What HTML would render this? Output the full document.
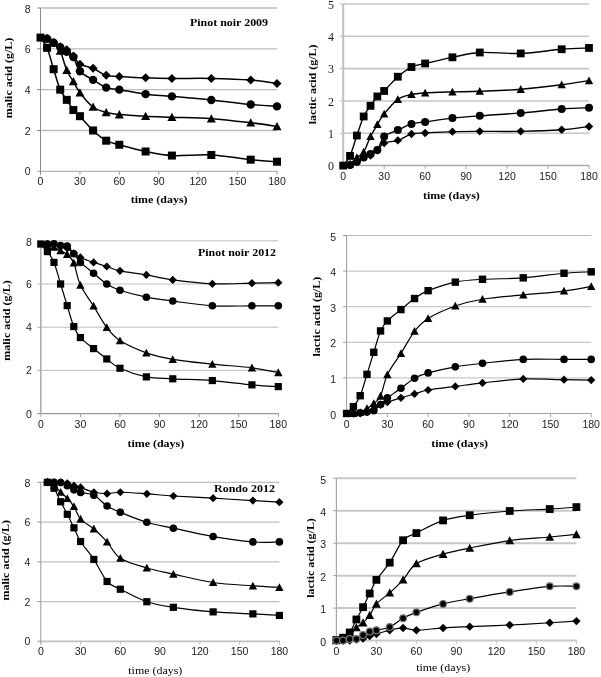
<!DOCTYPE html>
<html><head><meta charset="utf-8"><style>
html,body{margin:0;padding:0;background:#fff;}
body{width:601px;height:677px;overflow:hidden;font-family:"Liberation Sans", sans-serif;}
svg{display:block;will-change:transform;filter:blur(0.4px);}
</style></head><body>
<svg width="601" height="677" viewBox="0 0 601 677">
<rect width="601" height="677" fill="#fff"/>
<line x1="40.5" y1="130.48" x2="277.0" y2="130.48" stroke="#bdbdbd" stroke-width="1.3"/>
<line x1="37.0" y1="130.48" x2="40.5" y2="130.48" stroke="#8a8a8a" stroke-width="1"/>
<line x1="40.5" y1="89.65" x2="277.0" y2="89.65" stroke="#bdbdbd" stroke-width="1.3"/>
<line x1="37.0" y1="89.65" x2="40.5" y2="89.65" stroke="#8a8a8a" stroke-width="1"/>
<line x1="40.5" y1="48.83" x2="277.0" y2="48.83" stroke="#bdbdbd" stroke-width="1.3"/>
<line x1="37.0" y1="48.83" x2="40.5" y2="48.83" stroke="#8a8a8a" stroke-width="1"/>
<line x1="40.5" y1="8.00" x2="277.0" y2="8.00" stroke="#bdbdbd" stroke-width="1.3"/>
<line x1="37.0" y1="8.00" x2="40.5" y2="8.00" stroke="#8a8a8a" stroke-width="1"/>
<line x1="37.0" y1="171.30" x2="277.5" y2="171.30" stroke="#a0a0a0" stroke-width="1.0"/>
<line x1="40.50" y1="171.30" x2="40.50" y2="174.80" stroke="#8a8a8a" stroke-width="1"/>
<line x1="79.92" y1="171.30" x2="79.92" y2="174.80" stroke="#a0a0a0" stroke-width="1"/>
<line x1="119.33" y1="171.30" x2="119.33" y2="174.80" stroke="#a0a0a0" stroke-width="1"/>
<line x1="158.75" y1="171.30" x2="158.75" y2="174.80" stroke="#a0a0a0" stroke-width="1"/>
<line x1="198.17" y1="171.30" x2="198.17" y2="174.80" stroke="#a0a0a0" stroke-width="1"/>
<line x1="237.58" y1="171.30" x2="237.58" y2="174.80" stroke="#a0a0a0" stroke-width="1"/>
<line x1="277.00" y1="171.30" x2="277.00" y2="174.80" stroke="#a0a0a0" stroke-width="1"/>
<line x1="40.50" y1="8.00" x2="40.50" y2="171.80" stroke="#8a8a8a" stroke-width="1.0"/>
<text x="30.6" y="171.7" dy="0.35em" text-anchor="end" font-family="&quot;Liberation Sans&quot;, sans-serif" font-size="10.5" fill="#1a1a1a">0</text>
<text x="30.6" y="130.9" dy="0.35em" text-anchor="end" font-family="&quot;Liberation Sans&quot;, sans-serif" font-size="10.5" fill="#1a1a1a">2</text>
<text x="30.6" y="90.1" dy="0.35em" text-anchor="end" font-family="&quot;Liberation Sans&quot;, sans-serif" font-size="10.5" fill="#1a1a1a">4</text>
<text x="30.6" y="49.2" dy="0.35em" text-anchor="end" font-family="&quot;Liberation Sans&quot;, sans-serif" font-size="10.5" fill="#1a1a1a">6</text>
<text x="30.6" y="9.2" dy="0.35em" text-anchor="end" font-family="&quot;Liberation Sans&quot;, sans-serif" font-size="10.5" fill="#1a1a1a">8</text>
<text x="40.5" y="181.0" dy="0.35em" text-anchor="middle" font-family="&quot;Liberation Sans&quot;, sans-serif" font-size="10.5" fill="#1a1a1a">0</text>
<text x="79.9" y="181.0" dy="0.35em" text-anchor="middle" font-family="&quot;Liberation Sans&quot;, sans-serif" font-size="10.5" fill="#1a1a1a">30</text>
<text x="119.3" y="181.0" dy="0.35em" text-anchor="middle" font-family="&quot;Liberation Sans&quot;, sans-serif" font-size="10.5" fill="#1a1a1a">60</text>
<text x="158.8" y="181.0" dy="0.35em" text-anchor="middle" font-family="&quot;Liberation Sans&quot;, sans-serif" font-size="10.5" fill="#1a1a1a">90</text>
<text x="198.2" y="181.0" dy="0.35em" text-anchor="middle" font-family="&quot;Liberation Sans&quot;, sans-serif" font-size="10.5" fill="#1a1a1a">120</text>
<text x="237.6" y="181.0" dy="0.35em" text-anchor="middle" font-family="&quot;Liberation Sans&quot;, sans-serif" font-size="10.5" fill="#1a1a1a">150</text>
<text x="277.0" y="181.0" dy="0.35em" text-anchor="middle" font-family="&quot;Liberation Sans&quot;, sans-serif" font-size="10.5" fill="#1a1a1a">180</text>
<text x="0" y="0" transform="translate(159.20,202.60) scale(1.05,1)" text-anchor="middle" font-family="&quot;Liberation Serif&quot;, serif" font-size="11.4" font-weight="bold" fill="#000">time (days)</text>
<text x="0" y="0" dy="0.35em" transform="translate(7.90,78.00) rotate(-90) scale(1.05,1)" text-anchor="middle" font-family="&quot;Liberation Serif&quot;, serif" font-size="11.4" font-weight="bold" fill="#000">malic acid (g/L)</text>
<text x="0" y="0" transform="translate(229.00,26.20) scale(1.05,1)" text-anchor="middle" font-family="&quot;Liberation Serif&quot;, serif" font-size="11.4" font-weight="bold" fill="#000">Pinot noir 2009</text>
<path d="M40.50,37.60 C41.59,37.77 44.88,37.77 47.07,38.62 C49.26,39.47 51.45,41.34 53.64,42.70 C55.83,44.06 58.02,45.59 60.21,46.78 C62.40,47.97 64.59,48.31 66.78,49.85 C68.97,51.38 71.16,53.59 73.35,55.97 C75.54,58.35 76.63,62.09 79.92,64.13 C83.20,66.18 88.68,66.35 93.06,68.22 C97.44,70.09 101.81,74.00 106.19,75.36 C110.57,76.72 112.76,75.97 119.33,76.38 C125.90,76.79 136.85,77.47 145.61,77.81 C154.37,78.15 160.94,78.32 171.89,78.42 C182.84,78.53 198.17,78.15 211.31,78.42 C224.44,78.70 239.77,79.21 250.72,80.06 C261.67,80.91 272.62,82.95 277.00,83.53" fill="none" stroke="#000" stroke-width="1.5" stroke-linejoin="round"/>
<path d="M40.50,37.60 C41.59,37.77 44.88,37.77 47.07,38.62 C49.26,39.47 51.45,41.27 53.64,42.70 C55.83,44.13 58.02,45.66 60.21,47.19 C62.40,48.72 64.59,50.25 66.78,51.89 C68.97,53.52 71.16,53.76 73.35,56.99 C75.54,60.22 76.63,67.47 79.92,71.28 C83.20,75.09 88.68,77.13 93.06,79.85 C97.44,82.57 101.81,85.98 106.19,87.61 C110.57,89.24 112.76,88.56 119.33,89.65 C125.90,90.74 136.85,93.02 145.61,94.14 C154.37,95.26 160.94,95.40 171.89,96.39 C182.84,97.37 198.17,98.70 211.31,100.06 C224.44,101.42 239.77,103.50 250.72,104.55 C261.67,105.61 272.62,106.08 277.00,106.39" fill="none" stroke="#000" stroke-width="1.5" stroke-linejoin="round"/>
<path d="M40.50,37.60 C41.59,37.77 44.88,37.77 47.07,38.62 C49.26,39.47 51.45,40.66 53.64,42.70 C55.83,44.74 58.02,46.27 60.21,50.87 C62.40,55.46 64.59,65.16 66.78,70.26 C68.97,75.36 71.16,77.74 73.35,81.48 C75.54,85.23 76.63,88.46 79.92,92.71 C83.20,96.96 88.68,103.70 93.06,107.00 C97.44,110.30 101.81,111.25 106.19,112.51 C110.57,113.77 112.76,113.94 119.33,114.55 C125.90,115.17 136.85,115.74 145.61,116.19 C154.37,116.63 160.94,116.80 171.89,117.21 C182.84,117.62 198.17,117.72 211.31,118.64 C224.44,119.55 239.77,121.43 250.72,122.72 C261.67,124.01 272.62,125.78 277.00,126.39" fill="none" stroke="#000" stroke-width="1.5" stroke-linejoin="round"/>
<path d="M40.50,37.60 C41.59,39.30 44.88,42.53 47.07,47.80 C49.26,53.08 51.45,62.26 53.64,69.24 C55.83,76.21 58.02,84.55 60.21,89.65 C62.40,94.75 64.59,96.45 66.78,99.86 C68.97,103.26 71.16,107.34 73.35,110.06 C75.54,112.78 76.63,112.78 79.92,116.19 C83.20,119.59 88.68,126.39 93.06,130.48 C97.44,134.56 101.81,138.30 106.19,140.68 C110.57,143.06 112.76,142.96 119.33,144.76 C125.90,146.57 136.85,149.70 145.61,151.50 C154.37,153.30 160.94,155.00 171.89,155.58 C182.84,156.16 198.17,154.29 211.31,154.97 C224.44,155.65 239.77,158.54 250.72,159.66 C261.67,160.79 272.62,161.37 277.00,161.71" fill="none" stroke="#000" stroke-width="1.5" stroke-linejoin="round"/>
<polygon points="47.07,34.12 51.57,38.62 47.07,43.12 42.57,38.62" fill="#000"/>
<polygon points="53.64,38.20 58.14,42.70 53.64,47.20 49.14,42.70" fill="#000"/>
<polygon points="60.21,42.28 64.71,46.78 60.21,51.28 55.71,46.78" fill="#000"/>
<polygon points="66.78,45.35 71.28,49.85 66.78,54.35 62.28,49.85" fill="#000"/>
<polygon points="73.35,51.47 77.85,55.97 73.35,60.47 68.85,55.97" fill="#000"/>
<polygon points="79.92,59.63 84.42,64.13 79.92,68.63 75.42,64.13" fill="#000"/>
<polygon points="93.06,63.72 97.56,68.22 93.06,72.72 88.56,68.22" fill="#000"/>
<polygon points="106.19,70.86 110.69,75.36 106.19,79.86 101.69,75.36" fill="#000"/>
<polygon points="119.33,71.88 123.83,76.38 119.33,80.88 114.83,76.38" fill="#000"/>
<polygon points="145.61,73.31 150.11,77.81 145.61,82.31 141.11,77.81" fill="#000"/>
<polygon points="171.89,73.92 176.39,78.42 171.89,82.92 167.39,78.42" fill="#000"/>
<polygon points="211.31,73.92 215.81,78.42 211.31,82.92 206.81,78.42" fill="#000"/>
<polygon points="250.72,75.56 255.22,80.06 250.72,84.56 246.22,80.06" fill="#000"/>
<polygon points="277.00,79.03 281.50,83.53 277.00,88.03 272.50,83.53" fill="#000"/>
<circle cx="47.07" cy="38.62" r="4.20" fill="#000"/>
<circle cx="53.64" cy="42.70" r="4.20" fill="#000"/>
<circle cx="60.21" cy="47.19" r="4.20" fill="#000"/>
<circle cx="66.78" cy="51.89" r="4.20" fill="#000"/>
<circle cx="73.35" cy="56.99" r="4.20" fill="#000"/>
<circle cx="79.92" cy="71.28" r="4.20" fill="#000"/>
<circle cx="93.06" cy="79.85" r="4.20" fill="#000"/>
<circle cx="106.19" cy="87.61" r="4.20" fill="#000"/>
<circle cx="119.33" cy="89.65" r="4.20" fill="#000"/>
<circle cx="145.61" cy="94.14" r="4.20" fill="#000"/>
<circle cx="171.89" cy="96.39" r="4.20" fill="#000"/>
<circle cx="211.31" cy="100.06" r="4.20" fill="#000"/>
<circle cx="250.72" cy="104.55" r="4.20" fill="#000"/>
<circle cx="277.00" cy="106.39" r="4.20" fill="#000"/>
<polygon points="47.07,34.12 51.57,42.44 42.57,42.44" fill="#000"/>
<polygon points="53.64,38.20 58.14,46.53 49.14,46.53" fill="#000"/>
<polygon points="60.21,46.37 64.71,54.69 55.71,54.69" fill="#000"/>
<polygon points="66.78,65.76 71.28,74.08 62.28,74.08" fill="#000"/>
<polygon points="73.35,76.98 77.85,85.31 68.85,85.31" fill="#000"/>
<polygon points="79.92,88.21 84.42,96.54 75.42,96.54" fill="#000"/>
<polygon points="93.06,102.50 97.56,110.83 88.56,110.83" fill="#000"/>
<polygon points="106.19,108.01 110.69,116.34 101.69,116.34" fill="#000"/>
<polygon points="119.33,110.05 123.83,118.38 114.83,118.38" fill="#000"/>
<polygon points="145.61,111.69 150.11,120.01 141.11,120.01" fill="#000"/>
<polygon points="171.89,112.71 176.39,121.03 167.39,121.03" fill="#000"/>
<polygon points="211.31,114.14 215.81,122.46 206.81,122.46" fill="#000"/>
<polygon points="250.72,118.22 255.22,126.54 246.22,126.54" fill="#000"/>
<polygon points="277.00,121.89 281.50,130.22 272.50,130.22" fill="#000"/>
<rect x="36.50" y="33.60" width="8.00" height="8.00" fill="#000"/>
<rect x="43.07" y="43.80" width="8.00" height="8.00" fill="#000"/>
<rect x="49.64" y="65.24" width="8.00" height="8.00" fill="#000"/>
<rect x="56.21" y="85.65" width="8.00" height="8.00" fill="#000"/>
<rect x="62.78" y="95.86" width="8.00" height="8.00" fill="#000"/>
<rect x="69.35" y="106.06" width="8.00" height="8.00" fill="#000"/>
<rect x="75.92" y="112.19" width="8.00" height="8.00" fill="#000"/>
<rect x="89.06" y="126.48" width="8.00" height="8.00" fill="#000"/>
<rect x="102.19" y="136.68" width="8.00" height="8.00" fill="#000"/>
<rect x="115.33" y="140.76" width="8.00" height="8.00" fill="#000"/>
<rect x="141.61" y="147.50" width="8.00" height="8.00" fill="#000"/>
<rect x="167.89" y="151.58" width="8.00" height="8.00" fill="#000"/>
<rect x="207.31" y="150.97" width="8.00" height="8.00" fill="#000"/>
<rect x="246.72" y="155.66" width="8.00" height="8.00" fill="#000"/>
<rect x="273.00" y="157.71" width="8.00" height="8.00" fill="#000"/>
<line x1="343.2" y1="133.28" x2="589.0" y2="133.28" stroke="#c6c6c6" stroke-width="1.6"/>
<line x1="339.7" y1="133.28" x2="343.2" y2="133.28" stroke="#bfbfbf" stroke-width="1"/>
<line x1="343.2" y1="100.96" x2="589.0" y2="100.96" stroke="#c6c6c6" stroke-width="1.6"/>
<line x1="339.7" y1="100.96" x2="343.2" y2="100.96" stroke="#bfbfbf" stroke-width="1"/>
<line x1="343.2" y1="68.64" x2="589.0" y2="68.64" stroke="#c6c6c6" stroke-width="1.6"/>
<line x1="339.7" y1="68.64" x2="343.2" y2="68.64" stroke="#bfbfbf" stroke-width="1"/>
<line x1="343.2" y1="36.32" x2="589.0" y2="36.32" stroke="#c6c6c6" stroke-width="1.6"/>
<line x1="339.7" y1="36.32" x2="343.2" y2="36.32" stroke="#bfbfbf" stroke-width="1"/>
<line x1="343.2" y1="4.00" x2="589.0" y2="4.00" stroke="#c6c6c6" stroke-width="1.6"/>
<line x1="339.7" y1="4.00" x2="343.2" y2="4.00" stroke="#bfbfbf" stroke-width="1"/>
<line x1="339.7" y1="165.60" x2="589.5" y2="165.60" stroke="#aaaaaa" stroke-width="1.5"/>
<line x1="343.20" y1="165.60" x2="343.20" y2="169.10" stroke="#bfbfbf" stroke-width="1"/>
<line x1="384.17" y1="165.60" x2="384.17" y2="169.10" stroke="#aaaaaa" stroke-width="1"/>
<line x1="425.13" y1="165.60" x2="425.13" y2="169.10" stroke="#aaaaaa" stroke-width="1"/>
<line x1="466.10" y1="165.60" x2="466.10" y2="169.10" stroke="#aaaaaa" stroke-width="1"/>
<line x1="507.07" y1="165.60" x2="507.07" y2="169.10" stroke="#aaaaaa" stroke-width="1"/>
<line x1="548.03" y1="165.60" x2="548.03" y2="169.10" stroke="#aaaaaa" stroke-width="1"/>
<line x1="589.00" y1="165.60" x2="589.00" y2="169.10" stroke="#aaaaaa" stroke-width="1"/>
<line x1="343.20" y1="4.00" x2="343.20" y2="166.10" stroke="#bfbfbf" stroke-width="2.0"/>
<text x="334.0" y="166.0" dy="0.35em" text-anchor="end" font-family="&quot;Liberation Serif&quot;, serif" font-size="12" fill="#1a1a1a">0</text>
<text x="334.0" y="133.7" dy="0.35em" text-anchor="end" font-family="&quot;Liberation Serif&quot;, serif" font-size="12" fill="#1a1a1a">1</text>
<text x="334.0" y="101.4" dy="0.35em" text-anchor="end" font-family="&quot;Liberation Serif&quot;, serif" font-size="12" fill="#1a1a1a">2</text>
<text x="334.0" y="69.0" dy="0.35em" text-anchor="end" font-family="&quot;Liberation Serif&quot;, serif" font-size="12" fill="#1a1a1a">3</text>
<text x="334.0" y="36.7" dy="0.35em" text-anchor="end" font-family="&quot;Liberation Serif&quot;, serif" font-size="12" fill="#1a1a1a">4</text>
<text x="334.0" y="5.2" dy="0.35em" text-anchor="end" font-family="&quot;Liberation Serif&quot;, serif" font-size="12" fill="#1a1a1a">5</text>
<text x="343.2" y="176.0" dy="0.35em" text-anchor="middle" font-family="&quot;Liberation Sans&quot;, sans-serif" font-size="10.5" fill="#1a1a1a">0</text>
<text x="384.2" y="176.0" dy="0.35em" text-anchor="middle" font-family="&quot;Liberation Sans&quot;, sans-serif" font-size="10.5" fill="#1a1a1a">30</text>
<text x="425.1" y="176.0" dy="0.35em" text-anchor="middle" font-family="&quot;Liberation Sans&quot;, sans-serif" font-size="10.5" fill="#1a1a1a">60</text>
<text x="466.1" y="176.0" dy="0.35em" text-anchor="middle" font-family="&quot;Liberation Sans&quot;, sans-serif" font-size="10.5" fill="#1a1a1a">90</text>
<text x="507.1" y="176.0" dy="0.35em" text-anchor="middle" font-family="&quot;Liberation Sans&quot;, sans-serif" font-size="10.5" fill="#1a1a1a">120</text>
<text x="548.0" y="176.0" dy="0.35em" text-anchor="middle" font-family="&quot;Liberation Sans&quot;, sans-serif" font-size="10.5" fill="#1a1a1a">150</text>
<text x="589.0" y="176.0" dy="0.35em" text-anchor="middle" font-family="&quot;Liberation Sans&quot;, sans-serif" font-size="10.5" fill="#1a1a1a">180</text>
<text x="0" y="0" transform="translate(451.40,198.60) scale(1.05,1)" text-anchor="middle" font-family="&quot;Liberation Serif&quot;, serif" font-size="11.4" font-weight="bold" fill="#000">time (days)</text>
<text x="0" y="0" dy="0.35em" transform="translate(311.90,84.40) rotate(-90) scale(1.05,1)" text-anchor="middle" font-family="&quot;Liberation Serif&quot;, serif" font-size="11.4" font-weight="bold" fill="#000">lactic acid (g/L)</text>
<path d="M343.20,165.60 C344.34,165.49 347.75,165.60 350.03,164.95 C352.30,164.31 354.58,163.07 356.86,161.72 C359.13,160.37 361.41,157.90 363.68,156.87 C365.96,155.85 368.24,156.66 370.51,155.58 C372.79,154.50 375.06,152.51 377.34,150.41 C379.61,148.31 380.75,144.65 384.17,142.98 C387.58,141.31 393.27,141.90 397.82,140.39 C402.37,138.88 406.93,135.17 411.48,133.93 C416.03,132.69 418.31,133.33 425.13,132.96 C431.96,132.58 443.34,131.93 452.44,131.66 C461.55,131.39 468.38,131.39 479.76,131.34 C491.14,131.29 507.07,131.61 520.72,131.34 C534.38,131.07 550.31,130.53 561.69,129.72 C573.07,128.92 584.45,127.03 589.00,126.49" fill="none" stroke="#000" stroke-width="1.4" stroke-linejoin="round"/>
<path d="M343.20,165.60 C344.34,165.49 347.75,165.60 350.03,164.95 C352.30,164.31 354.58,162.96 356.86,161.72 C359.13,160.48 361.41,158.81 363.68,157.52 C365.96,156.23 368.24,155.20 370.51,153.96 C372.79,152.73 375.06,153.00 377.34,150.09 C379.61,147.18 380.75,139.85 384.17,136.51 C387.58,133.17 393.27,132.15 397.82,130.05 C402.37,127.95 406.93,125.25 411.48,123.91 C416.03,122.56 418.31,122.94 425.13,121.97 C431.96,121.00 443.34,119.11 452.44,118.09 C461.55,117.07 468.38,116.69 479.76,115.83 C491.14,114.97 507.07,114.05 520.72,112.92 C534.38,111.79 550.31,109.90 561.69,109.04 C573.07,108.18 584.45,107.96 589.00,107.75" fill="none" stroke="#000" stroke-width="1.4" stroke-linejoin="round"/>
<path d="M343.20,165.60 C344.34,165.33 347.75,165.33 350.03,163.98 C352.30,162.64 354.58,159.51 356.86,157.52 C359.13,155.53 361.41,155.53 363.68,152.03 C365.96,148.52 368.24,141.09 370.51,136.51 C372.79,131.93 375.06,128.32 377.34,124.55 C379.61,120.78 380.75,118.09 384.17,113.89 C387.58,109.69 393.27,102.58 397.82,99.34 C402.37,96.11 406.93,95.57 411.48,94.50 C416.03,93.42 418.31,93.31 425.13,92.88 C431.96,92.45 443.34,92.18 452.44,91.91 C461.55,91.64 468.38,91.69 479.76,91.26 C491.14,90.83 507.07,90.40 520.72,89.32 C534.38,88.25 550.31,86.25 561.69,84.80 C573.07,83.35 584.45,81.30 589.00,80.60" fill="none" stroke="#000" stroke-width="1.4" stroke-linejoin="round"/>
<path d="M343.20,165.60 C344.34,163.98 347.75,160.91 350.03,155.90 C352.30,150.89 354.58,142.11 356.86,135.54 C359.13,128.97 361.41,121.43 363.68,116.47 C365.96,111.52 368.24,109.15 370.51,105.81 C372.79,102.47 375.06,98.91 377.34,96.44 C379.61,93.96 380.75,94.23 384.17,90.94 C387.58,87.65 393.27,80.71 397.82,76.72 C402.37,72.73 406.93,69.23 411.48,67.02 C416.03,64.82 418.31,65.08 425.13,63.47 C431.96,61.85 443.34,59.16 452.44,57.33 C461.55,55.50 468.38,53.13 479.76,52.48 C491.14,51.83 507.07,53.99 520.72,53.45 C534.38,52.91 550.31,50.16 561.69,49.25 C573.07,48.33 584.45,48.17 589.00,47.96" fill="none" stroke="#000" stroke-width="1.4" stroke-linejoin="round"/>
<polygon points="350.03,160.75 354.23,164.95 350.03,169.15 345.83,164.95" fill="#000"/>
<polygon points="356.86,157.52 361.06,161.72 356.86,165.92 352.66,161.72" fill="#000"/>
<polygon points="363.68,152.67 367.88,156.87 363.68,161.07 359.48,156.87" fill="#000"/>
<polygon points="370.51,151.38 374.71,155.58 370.51,159.78 366.31,155.58" fill="#000"/>
<polygon points="377.34,146.21 381.54,150.41 377.34,154.61 373.14,150.41" fill="#000"/>
<polygon points="384.17,138.78 388.37,142.98 384.17,147.18 379.97,142.98" fill="#000"/>
<polygon points="397.82,136.19 402.02,140.39 397.82,144.59 393.62,140.39" fill="#000"/>
<polygon points="411.48,129.73 415.68,133.93 411.48,138.13 407.28,133.93" fill="#000"/>
<polygon points="425.13,128.76 429.33,132.96 425.13,137.16 420.93,132.96" fill="#000"/>
<polygon points="452.44,127.46 456.64,131.66 452.44,135.86 448.24,131.66" fill="#000"/>
<polygon points="479.76,127.14 483.96,131.34 479.76,135.54 475.56,131.34" fill="#000"/>
<polygon points="520.72,127.14 524.92,131.34 520.72,135.54 516.52,131.34" fill="#000"/>
<polygon points="561.69,125.52 565.89,129.72 561.69,133.92 557.49,129.72" fill="#000"/>
<polygon points="589.00,122.29 593.20,126.49 589.00,130.69 584.80,126.49" fill="#000"/>
<circle cx="350.03" cy="164.95" r="4.00" fill="#000"/>
<circle cx="356.86" cy="161.72" r="4.00" fill="#000"/>
<circle cx="363.68" cy="157.52" r="4.00" fill="#000"/>
<circle cx="370.51" cy="153.96" r="4.00" fill="#000"/>
<circle cx="377.34" cy="150.09" r="4.00" fill="#000"/>
<circle cx="384.17" cy="136.51" r="4.00" fill="#000"/>
<circle cx="397.82" cy="130.05" r="4.00" fill="#000"/>
<circle cx="411.48" cy="123.91" r="4.00" fill="#000"/>
<circle cx="425.13" cy="121.97" r="4.00" fill="#000"/>
<circle cx="452.44" cy="118.09" r="4.00" fill="#000"/>
<circle cx="479.76" cy="115.83" r="4.00" fill="#000"/>
<circle cx="520.72" cy="112.92" r="4.00" fill="#000"/>
<circle cx="561.69" cy="109.04" r="4.00" fill="#000"/>
<circle cx="589.00" cy="107.75" r="4.00" fill="#000"/>
<polygon points="350.03,159.78 354.23,167.55 345.83,167.55" fill="#000"/>
<polygon points="356.86,153.32 361.06,161.09 352.66,161.09" fill="#000"/>
<polygon points="363.68,147.83 367.88,155.60 359.48,155.60" fill="#000"/>
<polygon points="370.51,132.31 374.71,140.08 366.31,140.08" fill="#000"/>
<polygon points="377.34,120.35 381.54,128.12 373.14,128.12" fill="#000"/>
<polygon points="384.17,109.69 388.37,117.46 379.97,117.46" fill="#000"/>
<polygon points="397.82,95.14 402.02,102.91 393.62,102.91" fill="#000"/>
<polygon points="411.48,90.30 415.68,98.07 407.28,98.07" fill="#000"/>
<polygon points="425.13,88.68 429.33,96.45 420.93,96.45" fill="#000"/>
<polygon points="452.44,87.71 456.64,95.48 448.24,95.48" fill="#000"/>
<polygon points="479.76,87.06 483.96,94.83 475.56,94.83" fill="#000"/>
<polygon points="520.72,85.12 524.92,92.89 516.52,92.89" fill="#000"/>
<polygon points="561.69,80.60 565.89,88.37 557.49,88.37" fill="#000"/>
<polygon points="589.00,76.40 593.20,84.17 584.80,84.17" fill="#000"/>
<rect x="339.30" y="161.70" width="7.80" height="7.80" fill="#000"/>
<rect x="346.13" y="152.00" width="7.80" height="7.80" fill="#000"/>
<rect x="352.96" y="131.64" width="7.80" height="7.80" fill="#000"/>
<rect x="359.78" y="112.57" width="7.80" height="7.80" fill="#000"/>
<rect x="366.61" y="101.91" width="7.80" height="7.80" fill="#000"/>
<rect x="373.44" y="92.54" width="7.80" height="7.80" fill="#000"/>
<rect x="380.27" y="87.04" width="7.80" height="7.80" fill="#000"/>
<rect x="393.92" y="72.82" width="7.80" height="7.80" fill="#000"/>
<rect x="407.58" y="63.12" width="7.80" height="7.80" fill="#000"/>
<rect x="421.23" y="59.57" width="7.80" height="7.80" fill="#000"/>
<rect x="448.54" y="53.43" width="7.80" height="7.80" fill="#000"/>
<rect x="475.86" y="48.58" width="7.80" height="7.80" fill="#000"/>
<rect x="516.82" y="49.55" width="7.80" height="7.80" fill="#000"/>
<rect x="557.79" y="45.35" width="7.80" height="7.80" fill="#000"/>
<rect x="585.10" y="44.06" width="7.80" height="7.80" fill="#000"/>
<line x1="40.8" y1="370.40" x2="278.3" y2="370.40" stroke="#bbbbbb" stroke-width="1.0"/>
<line x1="37.3" y1="370.40" x2="40.8" y2="370.40" stroke="#adadad" stroke-width="1"/>
<line x1="40.8" y1="327.20" x2="278.3" y2="327.20" stroke="#bbbbbb" stroke-width="1.0"/>
<line x1="37.3" y1="327.20" x2="40.8" y2="327.20" stroke="#adadad" stroke-width="1"/>
<line x1="40.8" y1="284.00" x2="278.3" y2="284.00" stroke="#bbbbbb" stroke-width="1.0"/>
<line x1="37.3" y1="284.00" x2="40.8" y2="284.00" stroke="#adadad" stroke-width="1"/>
<line x1="40.8" y1="240.80" x2="278.3" y2="240.80" stroke="#bbbbbb" stroke-width="1.0"/>
<line x1="37.3" y1="240.80" x2="40.8" y2="240.80" stroke="#adadad" stroke-width="1"/>
<line x1="37.3" y1="413.60" x2="278.8" y2="413.60" stroke="#999999" stroke-width="1.2"/>
<line x1="40.80" y1="413.60" x2="40.80" y2="417.10" stroke="#adadad" stroke-width="1"/>
<line x1="80.38" y1="413.60" x2="80.38" y2="417.10" stroke="#999999" stroke-width="1"/>
<line x1="119.97" y1="413.60" x2="119.97" y2="417.10" stroke="#999999" stroke-width="1"/>
<line x1="159.55" y1="413.60" x2="159.55" y2="417.10" stroke="#999999" stroke-width="1"/>
<line x1="199.13" y1="413.60" x2="199.13" y2="417.10" stroke="#999999" stroke-width="1"/>
<line x1="238.72" y1="413.60" x2="238.72" y2="417.10" stroke="#999999" stroke-width="1"/>
<line x1="278.30" y1="413.60" x2="278.30" y2="417.10" stroke="#999999" stroke-width="1"/>
<line x1="40.80" y1="240.80" x2="40.80" y2="414.10" stroke="#adadad" stroke-width="1.6"/>
<text x="31.8" y="414.0" dy="0.35em" text-anchor="end" font-family="&quot;Liberation Sans&quot;, sans-serif" font-size="10.5" fill="#1a1a1a">0</text>
<text x="31.8" y="370.8" dy="0.35em" text-anchor="end" font-family="&quot;Liberation Sans&quot;, sans-serif" font-size="10.5" fill="#1a1a1a">2</text>
<text x="31.8" y="327.6" dy="0.35em" text-anchor="end" font-family="&quot;Liberation Sans&quot;, sans-serif" font-size="10.5" fill="#1a1a1a">4</text>
<text x="31.8" y="284.4" dy="0.35em" text-anchor="end" font-family="&quot;Liberation Sans&quot;, sans-serif" font-size="10.5" fill="#1a1a1a">6</text>
<text x="31.8" y="242.0" dy="0.35em" text-anchor="end" font-family="&quot;Liberation Sans&quot;, sans-serif" font-size="10.5" fill="#1a1a1a">8</text>
<text x="40.8" y="424.0" dy="0.35em" text-anchor="middle" font-family="&quot;Liberation Sans&quot;, sans-serif" font-size="10.5" fill="#1a1a1a">0</text>
<text x="80.4" y="424.0" dy="0.35em" text-anchor="middle" font-family="&quot;Liberation Sans&quot;, sans-serif" font-size="10.5" fill="#1a1a1a">30</text>
<text x="120.0" y="424.0" dy="0.35em" text-anchor="middle" font-family="&quot;Liberation Sans&quot;, sans-serif" font-size="10.5" fill="#1a1a1a">60</text>
<text x="159.6" y="424.0" dy="0.35em" text-anchor="middle" font-family="&quot;Liberation Sans&quot;, sans-serif" font-size="10.5" fill="#1a1a1a">90</text>
<text x="199.1" y="424.0" dy="0.35em" text-anchor="middle" font-family="&quot;Liberation Sans&quot;, sans-serif" font-size="10.5" fill="#1a1a1a">120</text>
<text x="238.7" y="424.0" dy="0.35em" text-anchor="middle" font-family="&quot;Liberation Sans&quot;, sans-serif" font-size="10.5" fill="#1a1a1a">150</text>
<text x="278.3" y="424.0" dy="0.35em" text-anchor="middle" font-family="&quot;Liberation Sans&quot;, sans-serif" font-size="10.5" fill="#1a1a1a">180</text>
<text x="0" y="0" transform="translate(155.80,446.70) scale(1.05,1)" text-anchor="middle" font-family="&quot;Liberation Serif&quot;, serif" font-size="11.4" font-weight="bold" fill="#000">time (days)</text>
<text x="0" y="0" dy="0.35em" transform="translate(6.40,320.50) rotate(-90) scale(1.05,1)" text-anchor="middle" font-family="&quot;Liberation Serif&quot;, serif" font-size="11.4" font-weight="bold" fill="#000">malic acid (g/L)</text>
<text x="0" y="0" transform="translate(237.00,255.80) scale(1.05,1)" text-anchor="middle" font-family="&quot;Liberation Serif&quot;, serif" font-size="11.4" font-weight="bold" fill="#000">Pinot noir 2012</text>
<path d="M40.80,244.04 C41.90,244.04 45.20,243.93 47.40,244.04 C49.60,244.15 51.80,244.33 53.99,244.69 C56.19,245.05 58.39,245.59 60.59,246.20 C62.79,246.81 64.99,247.17 67.19,248.36 C69.39,249.55 71.59,251.82 73.79,253.33 C75.99,254.84 77.08,255.92 80.38,257.43 C83.68,258.94 89.18,260.89 93.58,262.40 C97.98,263.91 102.37,265.10 106.77,266.50 C111.17,267.91 113.37,269.42 119.97,270.82 C126.56,272.23 137.56,273.42 146.36,274.93 C155.15,276.44 161.75,278.42 172.74,279.90 C183.74,281.37 199.13,283.24 212.33,283.78 C225.52,284.32 240.92,283.32 251.91,283.14 C262.91,282.96 273.90,282.78 278.30,282.70" fill="none" stroke="#000" stroke-width="1.2" stroke-linejoin="round"/>
<path d="M40.80,244.04 C41.90,244.04 45.20,244.08 47.40,244.04 C49.60,244.00 51.80,243.57 53.99,243.82 C56.19,244.08 58.39,245.19 60.59,245.55 C62.79,245.91 64.99,244.62 67.19,245.98 C69.39,247.35 71.59,251.02 73.79,253.76 C75.99,256.50 77.08,259.16 80.38,262.40 C83.68,265.64 89.18,269.60 93.58,273.20 C97.98,276.80 102.37,281.16 106.77,284.00 C111.17,286.84 113.37,288.07 119.97,290.26 C126.56,292.46 137.56,295.38 146.36,297.18 C155.15,298.98 161.75,299.62 172.74,301.06 C183.74,302.50 199.13,305.02 212.33,305.82 C225.52,306.61 240.92,305.82 251.91,305.82 C262.91,305.82 273.90,305.82 278.30,305.82" fill="none" stroke="#000" stroke-width="1.2" stroke-linejoin="round"/>
<path d="M40.80,244.04 C41.90,244.22 45.20,244.58 47.40,245.12 C49.60,245.66 51.80,246.34 53.99,247.28 C56.19,248.22 58.39,249.55 60.59,250.74 C62.79,251.92 64.99,252.36 67.19,254.41 C69.39,256.46 71.59,257.94 73.79,263.05 C75.99,268.16 77.08,277.92 80.38,285.08 C83.68,292.24 89.18,298.98 93.58,306.03 C97.98,313.09 102.37,321.66 106.77,327.42 C111.17,333.18 113.37,336.34 119.97,340.59 C126.56,344.84 137.56,349.77 146.36,352.90 C155.15,356.04 161.75,357.51 172.74,359.38 C183.74,361.26 199.13,362.73 212.33,364.14 C225.52,365.54 240.92,366.40 251.91,367.81 C262.91,369.21 273.90,371.77 278.30,372.56" fill="none" stroke="#000" stroke-width="1.2" stroke-linejoin="round"/>
<path d="M40.80,244.04 C41.90,245.30 45.20,248.54 47.40,251.60 C49.60,254.66 51.80,257.00 53.99,262.40 C56.19,267.80 58.39,276.80 60.59,284.00 C62.79,291.20 64.99,298.51 67.19,305.60 C69.39,312.69 71.59,321.22 73.79,326.55 C75.99,331.88 77.08,333.90 80.38,337.57 C83.68,341.24 89.18,345.02 93.58,348.58 C97.98,352.15 102.37,355.68 106.77,358.95 C111.17,362.23 113.37,365.25 119.97,368.24 C126.56,371.23 137.56,375.12 146.36,376.88 C155.15,378.64 161.75,378.21 172.74,378.82 C183.74,379.44 199.13,379.54 212.33,380.55 C225.52,381.56 240.92,383.86 251.91,384.87 C262.91,385.88 273.90,386.31 278.30,386.60" fill="none" stroke="#000" stroke-width="1.2" stroke-linejoin="round"/>
<polygon points="47.40,239.94 51.50,244.04 47.40,248.14 43.30,244.04" fill="#000"/>
<polygon points="53.99,240.59 58.09,244.69 53.99,248.79 49.89,244.69" fill="#000"/>
<polygon points="60.59,242.10 64.69,246.20 60.59,250.30 56.49,246.20" fill="#000"/>
<polygon points="67.19,244.26 71.29,248.36 67.19,252.46 63.09,248.36" fill="#000"/>
<polygon points="73.79,249.23 77.89,253.33 73.79,257.43 69.69,253.33" fill="#000"/>
<polygon points="80.38,253.33 84.48,257.43 80.38,261.53 76.28,257.43" fill="#000"/>
<polygon points="93.58,258.30 97.68,262.40 93.58,266.50 89.48,262.40" fill="#000"/>
<polygon points="106.77,262.40 110.87,266.50 106.77,270.60 102.67,266.50" fill="#000"/>
<polygon points="119.97,266.72 124.07,270.82 119.97,274.92 115.87,270.82" fill="#000"/>
<polygon points="146.36,270.83 150.46,274.93 146.36,279.03 142.26,274.93" fill="#000"/>
<polygon points="172.74,275.80 176.84,279.90 172.74,284.00 168.64,279.90" fill="#000"/>
<polygon points="212.33,279.68 216.43,283.78 212.33,287.88 208.23,283.78" fill="#000"/>
<polygon points="251.91,279.04 256.01,283.14 251.91,287.24 247.81,283.14" fill="#000"/>
<polygon points="278.30,278.60 282.40,282.70 278.30,286.80 274.20,282.70" fill="#000"/>
<circle cx="47.40" cy="244.04" r="3.80" fill="#000"/>
<circle cx="53.99" cy="243.82" r="3.80" fill="#000"/>
<circle cx="60.59" cy="245.55" r="3.80" fill="#000"/>
<circle cx="67.19" cy="245.98" r="3.80" fill="#000"/>
<circle cx="73.79" cy="253.76" r="3.80" fill="#000"/>
<circle cx="80.38" cy="262.40" r="3.80" fill="#000"/>
<circle cx="93.58" cy="273.20" r="3.80" fill="#000"/>
<circle cx="106.77" cy="284.00" r="3.80" fill="#000"/>
<circle cx="119.97" cy="290.26" r="3.80" fill="#000"/>
<circle cx="146.36" cy="297.18" r="3.80" fill="#000"/>
<circle cx="172.74" cy="301.06" r="3.80" fill="#000"/>
<circle cx="212.33" cy="305.82" r="3.80" fill="#000"/>
<circle cx="251.91" cy="305.82" r="3.80" fill="#000"/>
<circle cx="278.30" cy="305.82" r="3.80" fill="#000"/>
<polygon points="47.40,240.92 51.60,248.69 43.20,248.69" fill="#000"/>
<polygon points="53.99,243.08 58.19,250.85 49.79,250.85" fill="#000"/>
<polygon points="60.59,246.54 64.79,254.31 56.39,254.31" fill="#000"/>
<polygon points="67.19,250.21 71.39,257.98 62.99,257.98" fill="#000"/>
<polygon points="73.79,258.85 77.99,266.62 69.59,266.62" fill="#000"/>
<polygon points="80.38,280.88 84.58,288.65 76.18,288.65" fill="#000"/>
<polygon points="93.58,301.83 97.78,309.60 89.38,309.60" fill="#000"/>
<polygon points="106.77,323.22 110.97,330.99 102.57,330.99" fill="#000"/>
<polygon points="119.97,336.39 124.17,344.16 115.77,344.16" fill="#000"/>
<polygon points="146.36,348.70 150.56,356.47 142.16,356.47" fill="#000"/>
<polygon points="172.74,355.18 176.94,362.95 168.54,362.95" fill="#000"/>
<polygon points="212.33,359.94 216.53,367.71 208.13,367.71" fill="#000"/>
<polygon points="251.91,363.61 256.11,371.38 247.71,371.38" fill="#000"/>
<polygon points="278.30,368.36 282.50,376.13 274.10,376.13" fill="#000"/>
<rect x="37.20" y="240.44" width="7.20" height="7.20" fill="#000"/>
<rect x="43.80" y="248.00" width="7.20" height="7.20" fill="#000"/>
<rect x="50.39" y="258.80" width="7.20" height="7.20" fill="#000"/>
<rect x="56.99" y="280.40" width="7.20" height="7.20" fill="#000"/>
<rect x="63.59" y="302.00" width="7.20" height="7.20" fill="#000"/>
<rect x="70.19" y="322.95" width="7.20" height="7.20" fill="#000"/>
<rect x="76.78" y="333.97" width="7.20" height="7.20" fill="#000"/>
<rect x="89.98" y="344.98" width="7.20" height="7.20" fill="#000"/>
<rect x="103.17" y="355.35" width="7.20" height="7.20" fill="#000"/>
<rect x="116.37" y="364.64" width="7.20" height="7.20" fill="#000"/>
<rect x="142.76" y="373.28" width="7.20" height="7.20" fill="#000"/>
<rect x="169.14" y="375.22" width="7.20" height="7.20" fill="#000"/>
<rect x="208.73" y="376.95" width="7.20" height="7.20" fill="#000"/>
<rect x="248.31" y="381.27" width="7.20" height="7.20" fill="#000"/>
<rect x="274.70" y="383.00" width="7.20" height="7.20" fill="#000"/>
<line x1="346.6" y1="377.90" x2="591.2" y2="377.90" stroke="#bbbbbb" stroke-width="1.0"/>
<line x1="343.1" y1="377.90" x2="346.6" y2="377.90" stroke="#999999" stroke-width="1"/>
<line x1="346.6" y1="342.30" x2="591.2" y2="342.30" stroke="#bbbbbb" stroke-width="1.0"/>
<line x1="343.1" y1="342.30" x2="346.6" y2="342.30" stroke="#999999" stroke-width="1"/>
<line x1="346.6" y1="306.70" x2="591.2" y2="306.70" stroke="#bbbbbb" stroke-width="1.0"/>
<line x1="343.1" y1="306.70" x2="346.6" y2="306.70" stroke="#999999" stroke-width="1"/>
<line x1="346.6" y1="271.10" x2="591.2" y2="271.10" stroke="#bbbbbb" stroke-width="1.0"/>
<line x1="343.1" y1="271.10" x2="346.6" y2="271.10" stroke="#999999" stroke-width="1"/>
<line x1="346.6" y1="235.50" x2="591.2" y2="235.50" stroke="#bbbbbb" stroke-width="1.0"/>
<line x1="343.1" y1="235.50" x2="346.6" y2="235.50" stroke="#999999" stroke-width="1"/>
<line x1="343.1" y1="413.50" x2="591.7" y2="413.50" stroke="#a5a5a5" stroke-width="1.0"/>
<line x1="346.60" y1="413.50" x2="346.60" y2="417.00" stroke="#999999" stroke-width="1"/>
<line x1="387.37" y1="413.50" x2="387.37" y2="417.00" stroke="#a5a5a5" stroke-width="1"/>
<line x1="428.13" y1="413.50" x2="428.13" y2="417.00" stroke="#a5a5a5" stroke-width="1"/>
<line x1="468.90" y1="413.50" x2="468.90" y2="417.00" stroke="#a5a5a5" stroke-width="1"/>
<line x1="509.67" y1="413.50" x2="509.67" y2="417.00" stroke="#a5a5a5" stroke-width="1"/>
<line x1="550.43" y1="413.50" x2="550.43" y2="417.00" stroke="#a5a5a5" stroke-width="1"/>
<line x1="591.20" y1="413.50" x2="591.20" y2="417.00" stroke="#a5a5a5" stroke-width="1"/>
<line x1="346.60" y1="235.50" x2="346.60" y2="414.00" stroke="#999999" stroke-width="1.0"/>
<text x="336.2" y="414.9" dy="0.35em" text-anchor="end" font-family="&quot;Liberation Sans&quot;, sans-serif" font-size="10.5" fill="#1a1a1a">0</text>
<text x="336.2" y="379.3" dy="0.35em" text-anchor="end" font-family="&quot;Liberation Sans&quot;, sans-serif" font-size="10.5" fill="#1a1a1a">1</text>
<text x="336.2" y="343.7" dy="0.35em" text-anchor="end" font-family="&quot;Liberation Sans&quot;, sans-serif" font-size="10.5" fill="#1a1a1a">2</text>
<text x="336.2" y="308.1" dy="0.35em" text-anchor="end" font-family="&quot;Liberation Sans&quot;, sans-serif" font-size="10.5" fill="#1a1a1a">3</text>
<text x="336.2" y="272.5" dy="0.35em" text-anchor="end" font-family="&quot;Liberation Sans&quot;, sans-serif" font-size="10.5" fill="#1a1a1a">4</text>
<text x="336.2" y="237.7" dy="0.35em" text-anchor="end" font-family="&quot;Liberation Sans&quot;, sans-serif" font-size="10.5" fill="#1a1a1a">5</text>
<text x="346.6" y="424.2" dy="0.35em" text-anchor="middle" font-family="&quot;Liberation Sans&quot;, sans-serif" font-size="10.5" fill="#1a1a1a">0</text>
<text x="387.4" y="424.2" dy="0.35em" text-anchor="middle" font-family="&quot;Liberation Sans&quot;, sans-serif" font-size="10.5" fill="#1a1a1a">30</text>
<text x="428.1" y="424.2" dy="0.35em" text-anchor="middle" font-family="&quot;Liberation Sans&quot;, sans-serif" font-size="10.5" fill="#1a1a1a">60</text>
<text x="468.9" y="424.2" dy="0.35em" text-anchor="middle" font-family="&quot;Liberation Sans&quot;, sans-serif" font-size="10.5" fill="#1a1a1a">90</text>
<text x="509.7" y="424.2" dy="0.35em" text-anchor="middle" font-family="&quot;Liberation Sans&quot;, sans-serif" font-size="10.5" fill="#1a1a1a">120</text>
<text x="550.4" y="424.2" dy="0.35em" text-anchor="middle" font-family="&quot;Liberation Sans&quot;, sans-serif" font-size="10.5" fill="#1a1a1a">150</text>
<text x="591.2" y="424.2" dy="0.35em" text-anchor="middle" font-family="&quot;Liberation Sans&quot;, sans-serif" font-size="10.5" fill="#1a1a1a">180</text>
<text x="0" y="0" transform="translate(459.70,446.70) scale(1.05,1)" text-anchor="middle" font-family="&quot;Liberation Serif&quot;, serif" font-size="11.4" font-weight="bold" fill="#000">time (days)</text>
<text x="0" y="0" dy="0.35em" transform="translate(315.90,316.70) rotate(-90) scale(1.05,1)" text-anchor="middle" font-family="&quot;Liberation Serif&quot;, serif" font-size="11.4" font-weight="bold" fill="#000">lactic acid (g/L)</text>
<path d="M346.60,413.50 C347.73,413.50 351.13,413.50 353.39,413.50 C355.66,413.50 357.92,413.80 360.19,413.50 C362.45,413.20 364.72,412.43 366.98,411.72 C369.25,411.01 371.51,410.41 373.78,409.23 C376.04,408.04 378.31,405.79 380.57,404.60 C382.84,403.41 383.97,403.24 387.37,402.11 C390.76,400.98 396.43,399.20 400.96,397.84 C405.49,396.47 410.01,395.23 414.54,393.92 C419.07,392.61 421.34,391.25 428.13,390.00 C434.93,388.76 446.25,387.63 455.31,386.44 C464.37,385.26 471.16,384.13 482.49,382.88 C493.81,381.64 509.67,379.50 523.26,378.97 C536.84,378.43 552.70,379.50 564.02,379.68 C575.35,379.86 586.67,379.98 591.20,380.04" fill="none" stroke="#000" stroke-width="1.2" stroke-linejoin="round"/>
<path d="M346.60,413.50 C347.73,413.50 351.13,413.62 353.39,413.50 C355.66,413.38 357.92,413.03 360.19,412.79 C362.45,412.55 364.72,412.43 366.98,412.08 C369.25,411.72 371.51,411.90 373.78,410.65 C376.04,409.41 378.31,406.74 380.57,404.60 C382.84,402.46 383.97,400.57 387.37,397.84 C390.76,395.11 396.43,391.49 400.96,388.22 C405.49,384.96 410.01,380.81 414.54,378.26 C419.07,375.70 421.34,374.81 428.13,372.92 C434.93,371.02 446.25,368.47 455.31,366.86 C464.37,365.26 471.16,364.55 482.49,363.30 C493.81,362.06 509.67,360.04 523.26,359.39 C536.84,358.74 552.70,359.39 564.02,359.39 C575.35,359.39 586.67,359.39 591.20,359.39" fill="none" stroke="#000" stroke-width="1.2" stroke-linejoin="round"/>
<path d="M346.60,413.50 C347.73,413.50 351.13,413.68 353.39,413.50 C355.66,413.32 357.92,413.26 360.19,412.43 C362.45,411.60 364.72,410.00 366.98,408.52 C369.25,407.03 371.51,405.61 373.78,403.53 C376.04,401.46 378.31,400.86 380.57,396.06 C382.84,391.25 383.97,381.82 387.37,374.70 C390.76,367.58 396.43,360.57 400.96,353.34 C405.49,346.10 410.01,337.08 414.54,331.26 C419.07,325.45 421.34,322.66 428.13,318.45 C434.93,314.24 446.25,309.19 455.31,305.99 C464.37,302.78 471.16,301.06 482.49,299.22 C493.81,297.38 509.67,296.32 523.26,294.95 C536.84,293.59 552.70,292.46 564.02,291.04 C575.35,289.61 586.67,287.18 591.20,286.41" fill="none" stroke="#000" stroke-width="1.2" stroke-linejoin="round"/>
<path d="M346.60,413.50 C347.73,412.37 351.13,409.70 353.39,406.74 C355.66,403.77 357.92,401.10 360.19,395.70 C362.45,390.30 364.72,381.58 366.98,374.34 C369.25,367.10 371.51,359.51 373.78,352.27 C376.04,345.03 378.31,336.13 380.57,330.91 C382.84,325.69 383.97,324.50 387.37,320.94 C390.76,317.38 396.43,313.29 400.96,309.55 C405.49,305.81 410.01,301.66 414.54,298.51 C419.07,295.37 421.34,293.41 428.13,290.68 C434.93,287.95 446.25,284.03 455.31,282.14 C464.37,280.24 471.16,280.00 482.49,279.29 C493.81,278.58 509.67,278.87 523.26,277.86 C536.84,276.86 552.70,274.24 564.02,273.24 C575.35,272.23 586.67,272.05 591.20,271.81" fill="none" stroke="#000" stroke-width="1.2" stroke-linejoin="round"/>
<polygon points="353.39,409.40 357.49,413.50 353.39,417.60 349.29,413.50" fill="#000"/>
<polygon points="360.19,409.40 364.29,413.50 360.19,417.60 356.09,413.50" fill="#000"/>
<polygon points="366.98,407.62 371.08,411.72 366.98,415.82 362.88,411.72" fill="#000"/>
<polygon points="373.78,405.13 377.88,409.23 373.78,413.33 369.68,409.23" fill="#000"/>
<polygon points="380.57,400.50 384.67,404.60 380.57,408.70 376.47,404.60" fill="#000"/>
<polygon points="387.37,398.01 391.47,402.11 387.37,406.21 383.27,402.11" fill="#000"/>
<polygon points="400.96,393.74 405.06,397.84 400.96,401.94 396.86,397.84" fill="#000"/>
<polygon points="414.54,389.82 418.64,393.92 414.54,398.02 410.44,393.92" fill="#000"/>
<polygon points="428.13,385.90 432.23,390.00 428.13,394.10 424.03,390.00" fill="#000"/>
<polygon points="455.31,382.34 459.41,386.44 455.31,390.54 451.21,386.44" fill="#000"/>
<polygon points="482.49,378.78 486.59,382.88 482.49,386.98 478.39,382.88" fill="#000"/>
<polygon points="523.26,374.87 527.36,378.97 523.26,383.07 519.16,378.97" fill="#000"/>
<polygon points="564.02,375.58 568.12,379.68 564.02,383.78 559.92,379.68" fill="#000"/>
<polygon points="591.20,375.94 595.30,380.04 591.20,384.14 587.10,380.04" fill="#000"/>
<circle cx="353.39" cy="413.50" r="3.80" fill="#000"/>
<circle cx="360.19" cy="412.79" r="3.80" fill="#000"/>
<circle cx="366.98" cy="412.08" r="3.80" fill="#000"/>
<circle cx="373.78" cy="410.65" r="3.80" fill="#000"/>
<circle cx="380.57" cy="404.60" r="3.80" fill="#000"/>
<circle cx="387.37" cy="397.84" r="3.80" fill="#000"/>
<circle cx="400.96" cy="388.22" r="3.80" fill="#000"/>
<circle cx="414.54" cy="378.26" r="3.80" fill="#000"/>
<circle cx="428.13" cy="372.92" r="3.80" fill="#000"/>
<circle cx="455.31" cy="366.86" r="3.80" fill="#000"/>
<circle cx="482.49" cy="363.30" r="3.80" fill="#000"/>
<circle cx="523.26" cy="359.39" r="3.80" fill="#000"/>
<circle cx="564.02" cy="359.39" r="3.80" fill="#000"/>
<circle cx="591.20" cy="359.39" r="3.80" fill="#000"/>
<polygon points="353.39,409.30 357.59,417.07 349.19,417.07" fill="#000"/>
<polygon points="360.19,408.23 364.39,416.00 355.99,416.00" fill="#000"/>
<polygon points="366.98,404.32 371.18,412.09 362.78,412.09" fill="#000"/>
<polygon points="373.78,399.33 377.98,407.10 369.58,407.10" fill="#000"/>
<polygon points="380.57,391.86 384.77,399.63 376.37,399.63" fill="#000"/>
<polygon points="387.37,370.50 391.57,378.27 383.17,378.27" fill="#000"/>
<polygon points="400.96,349.14 405.16,356.91 396.76,356.91" fill="#000"/>
<polygon points="414.54,327.06 418.74,334.83 410.34,334.83" fill="#000"/>
<polygon points="428.13,314.25 432.33,322.02 423.93,322.02" fill="#000"/>
<polygon points="455.31,301.79 459.51,309.56 451.11,309.56" fill="#000"/>
<polygon points="482.49,295.02 486.69,302.79 478.29,302.79" fill="#000"/>
<polygon points="523.26,290.75 527.46,298.52 519.06,298.52" fill="#000"/>
<polygon points="564.02,286.84 568.22,294.61 559.82,294.61" fill="#000"/>
<polygon points="591.20,282.21 595.40,289.98 587.00,289.98" fill="#000"/>
<rect x="342.90" y="409.80" width="7.40" height="7.40" fill="#000"/>
<rect x="349.69" y="403.04" width="7.40" height="7.40" fill="#000"/>
<rect x="356.49" y="392.00" width="7.40" height="7.40" fill="#000"/>
<rect x="363.28" y="370.64" width="7.40" height="7.40" fill="#000"/>
<rect x="370.08" y="348.57" width="7.40" height="7.40" fill="#000"/>
<rect x="376.87" y="327.21" width="7.40" height="7.40" fill="#000"/>
<rect x="383.67" y="317.24" width="7.40" height="7.40" fill="#000"/>
<rect x="397.26" y="305.85" width="7.40" height="7.40" fill="#000"/>
<rect x="410.84" y="294.81" width="7.40" height="7.40" fill="#000"/>
<rect x="424.43" y="286.98" width="7.40" height="7.40" fill="#000"/>
<rect x="451.61" y="278.44" width="7.40" height="7.40" fill="#000"/>
<rect x="478.79" y="275.59" width="7.40" height="7.40" fill="#000"/>
<rect x="519.56" y="274.16" width="7.40" height="7.40" fill="#000"/>
<rect x="560.32" y="269.54" width="7.40" height="7.40" fill="#000"/>
<rect x="587.50" y="268.11" width="7.40" height="7.40" fill="#000"/>
<line x1="40.8" y1="601.55" x2="279.4" y2="601.55" stroke="#bfbfbf" stroke-width="1.2"/>
<line x1="37.3" y1="601.55" x2="40.8" y2="601.55" stroke="#999999" stroke-width="1"/>
<line x1="40.8" y1="561.80" x2="279.4" y2="561.80" stroke="#bfbfbf" stroke-width="1.2"/>
<line x1="37.3" y1="561.80" x2="40.8" y2="561.80" stroke="#999999" stroke-width="1"/>
<line x1="40.8" y1="522.05" x2="279.4" y2="522.05" stroke="#bfbfbf" stroke-width="1.2"/>
<line x1="37.3" y1="522.05" x2="40.8" y2="522.05" stroke="#999999" stroke-width="1"/>
<line x1="40.8" y1="482.30" x2="279.4" y2="482.30" stroke="#bfbfbf" stroke-width="1.2"/>
<line x1="37.3" y1="482.30" x2="40.8" y2="482.30" stroke="#999999" stroke-width="1"/>
<line x1="37.3" y1="641.30" x2="279.9" y2="641.30" stroke="#c0c0c0" stroke-width="1.7"/>
<line x1="40.80" y1="641.30" x2="40.80" y2="644.80" stroke="#999999" stroke-width="1"/>
<line x1="80.57" y1="641.30" x2="80.57" y2="644.80" stroke="#c0c0c0" stroke-width="1"/>
<line x1="120.33" y1="641.30" x2="120.33" y2="644.80" stroke="#c0c0c0" stroke-width="1"/>
<line x1="160.10" y1="641.30" x2="160.10" y2="644.80" stroke="#c0c0c0" stroke-width="1"/>
<line x1="199.87" y1="641.30" x2="199.87" y2="644.80" stroke="#c0c0c0" stroke-width="1"/>
<line x1="239.63" y1="641.30" x2="239.63" y2="644.80" stroke="#c0c0c0" stroke-width="1"/>
<line x1="279.40" y1="641.30" x2="279.40" y2="644.80" stroke="#c0c0c0" stroke-width="1"/>
<line x1="40.80" y1="482.30" x2="40.80" y2="641.80" stroke="#999999" stroke-width="1.0"/>
<text x="30.3" y="641.7" dy="0.35em" text-anchor="end" font-family="&quot;Liberation Sans&quot;, sans-serif" font-size="10.5" fill="#1a1a1a">0</text>
<text x="30.3" y="601.9" dy="0.35em" text-anchor="end" font-family="&quot;Liberation Sans&quot;, sans-serif" font-size="10.5" fill="#1a1a1a">2</text>
<text x="30.3" y="562.2" dy="0.35em" text-anchor="end" font-family="&quot;Liberation Sans&quot;, sans-serif" font-size="10.5" fill="#1a1a1a">4</text>
<text x="30.3" y="522.4" dy="0.35em" text-anchor="end" font-family="&quot;Liberation Sans&quot;, sans-serif" font-size="10.5" fill="#1a1a1a">6</text>
<text x="30.3" y="483.5" dy="0.35em" text-anchor="end" font-family="&quot;Liberation Sans&quot;, sans-serif" font-size="10.5" fill="#1a1a1a">8</text>
<text x="40.8" y="651.0" dy="0.35em" text-anchor="middle" font-family="&quot;Liberation Sans&quot;, sans-serif" font-size="10.5" fill="#1a1a1a">0</text>
<text x="80.6" y="651.0" dy="0.35em" text-anchor="middle" font-family="&quot;Liberation Sans&quot;, sans-serif" font-size="10.5" fill="#1a1a1a">30</text>
<text x="120.3" y="651.0" dy="0.35em" text-anchor="middle" font-family="&quot;Liberation Sans&quot;, sans-serif" font-size="10.5" fill="#1a1a1a">60</text>
<text x="160.1" y="651.0" dy="0.35em" text-anchor="middle" font-family="&quot;Liberation Sans&quot;, sans-serif" font-size="10.5" fill="#1a1a1a">90</text>
<text x="199.9" y="651.0" dy="0.35em" text-anchor="middle" font-family="&quot;Liberation Sans&quot;, sans-serif" font-size="10.5" fill="#1a1a1a">120</text>
<text x="239.6" y="651.0" dy="0.35em" text-anchor="middle" font-family="&quot;Liberation Sans&quot;, sans-serif" font-size="10.5" fill="#1a1a1a">150</text>
<text x="279.4" y="651.0" dy="0.35em" text-anchor="middle" font-family="&quot;Liberation Sans&quot;, sans-serif" font-size="10.5" fill="#1a1a1a">180</text>
<text x="0" y="0" transform="translate(155.30,673.60) scale(1.05,1)" text-anchor="middle" font-family="&quot;Liberation Serif&quot;, serif" font-size="11.4" font-weight="normal" fill="#000">time (days)</text>
<text x="0" y="0" dy="0.35em" transform="translate(5.50,560.30) rotate(-90) scale(1.05,1)" text-anchor="middle" font-family="&quot;Liberation Serif&quot;, serif" font-size="11.4" font-weight="bold" fill="#000">malic acid (g/L)</text>
<text x="0" y="0" transform="translate(244.50,492.20) scale(1.05,1)" text-anchor="middle" font-family="&quot;Liberation Serif&quot;, serif" font-size="11.4" font-weight="bold" fill="#000">Rondo 2012</text>
<path d="M47.43,482.30 C48.53,482.30 51.85,482.30 54.06,482.30 C56.26,482.30 58.47,482.13 60.68,482.30 C62.89,482.47 65.10,482.73 67.31,483.29 C69.52,483.86 71.73,484.98 73.94,485.68 C76.15,486.37 77.25,486.37 80.57,487.47 C83.88,488.56 89.40,491.21 93.82,492.24 C98.24,493.26 102.66,493.63 107.08,493.63 C111.50,493.63 113.71,492.20 120.33,492.24 C126.96,492.27 138.01,493.20 146.84,493.83 C155.68,494.46 162.31,495.29 173.36,496.01 C184.40,496.74 199.87,497.44 213.12,498.20 C226.38,498.96 241.84,499.92 252.89,500.59 C263.94,501.25 274.98,501.91 279.40,502.18" fill="none" stroke="#000" stroke-width="1.2" stroke-linejoin="round"/>
<path d="M47.43,482.30 C48.53,482.30 51.85,482.27 54.06,482.30 C56.26,482.33 58.47,481.94 60.68,482.50 C62.89,483.06 65.10,484.45 67.31,485.68 C69.52,486.90 71.73,488.73 73.94,489.85 C76.15,490.98 77.25,491.54 80.57,492.44 C83.88,493.33 89.40,492.97 93.82,495.22 C98.24,497.47 102.66,503.10 107.08,505.95 C111.50,508.80 113.71,509.59 120.33,512.31 C126.96,515.03 138.01,519.60 146.84,522.25 C155.68,524.90 162.31,525.83 173.36,528.21 C184.40,530.60 199.87,534.27 213.12,536.56 C226.38,538.84 241.84,541.03 252.89,541.92 C263.94,542.82 274.98,541.92 279.40,541.92" fill="none" stroke="#000" stroke-width="1.2" stroke-linejoin="round"/>
<path d="M47.43,482.30 C48.53,482.80 51.85,483.62 54.06,485.28 C56.26,486.94 58.47,490.05 60.68,492.24 C62.89,494.42 65.10,496.01 67.31,498.40 C69.52,500.78 71.73,503.10 73.94,506.55 C76.15,509.99 77.25,515.36 80.57,519.07 C83.88,522.78 89.40,525.00 93.82,528.81 C98.24,532.62 102.66,537.02 107.08,541.92 C111.50,546.83 113.71,553.88 120.33,558.22 C126.96,562.56 138.01,565.31 146.84,567.96 C155.68,570.61 162.31,571.70 173.36,574.12 C184.40,576.54 199.87,580.52 213.12,582.47 C226.38,584.42 241.84,585.02 252.89,585.85 C263.94,586.68 274.98,587.17 279.40,587.44" fill="none" stroke="#000" stroke-width="1.2" stroke-linejoin="round"/>
<path d="M47.43,482.30 C48.53,483.29 51.85,485.02 54.06,488.26 C56.26,491.51 58.47,497.44 60.68,501.78 C62.89,506.12 65.10,509.96 67.31,514.30 C69.52,518.64 71.73,523.28 73.94,527.81 C76.15,532.35 77.25,536.26 80.57,541.53 C83.88,546.79 89.40,552.76 93.82,559.41 C98.24,566.07 102.66,576.51 107.08,581.48 C111.50,586.44 113.71,585.85 120.33,589.23 C126.96,592.61 138.01,598.73 146.84,601.75 C155.68,604.76 162.31,605.62 173.36,607.31 C184.40,609.00 199.87,610.79 213.12,611.88 C226.38,612.98 241.84,613.28 252.89,613.87 C263.94,614.47 274.98,615.20 279.40,615.46" fill="none" stroke="#000" stroke-width="1.2" stroke-linejoin="round"/>
<polygon points="47.43,478.20 51.53,482.30 47.43,486.40 43.33,482.30" fill="#000"/>
<polygon points="54.06,478.20 58.16,482.30 54.06,486.40 49.96,482.30" fill="#000"/>
<polygon points="60.68,478.20 64.78,482.30 60.68,486.40 56.58,482.30" fill="#000"/>
<polygon points="67.31,479.19 71.41,483.29 67.31,487.39 63.21,483.29" fill="#000"/>
<polygon points="73.94,481.58 78.04,485.68 73.94,489.78 69.84,485.68" fill="#000"/>
<polygon points="80.57,483.37 84.67,487.47 80.57,491.57 76.47,487.47" fill="#000"/>
<polygon points="93.82,488.14 97.92,492.24 93.82,496.34 89.72,492.24" fill="#000"/>
<polygon points="107.08,489.53 111.18,493.63 107.08,497.73 102.98,493.63" fill="#000"/>
<polygon points="120.33,488.14 124.43,492.24 120.33,496.34 116.23,492.24" fill="#000"/>
<polygon points="146.84,489.73 150.94,493.83 146.84,497.93 142.74,493.83" fill="#000"/>
<polygon points="173.36,491.91 177.46,496.01 173.36,500.11 169.26,496.01" fill="#000"/>
<polygon points="213.12,494.10 217.22,498.20 213.12,502.30 209.02,498.20" fill="#000"/>
<polygon points="252.89,496.49 256.99,500.59 252.89,504.69 248.79,500.59" fill="#000"/>
<polygon points="279.40,498.07 283.50,502.18 279.40,506.28 275.30,502.18" fill="#000"/>
<circle cx="47.43" cy="482.30" r="3.80" fill="#000"/>
<circle cx="54.06" cy="482.30" r="3.80" fill="#000"/>
<circle cx="60.68" cy="482.50" r="3.80" fill="#000"/>
<circle cx="67.31" cy="485.68" r="3.80" fill="#000"/>
<circle cx="73.94" cy="489.85" r="3.80" fill="#000"/>
<circle cx="80.57" cy="492.44" r="3.80" fill="#000"/>
<circle cx="93.82" cy="495.22" r="3.80" fill="#000"/>
<circle cx="107.08" cy="505.95" r="3.80" fill="#000"/>
<circle cx="120.33" cy="512.31" r="3.80" fill="#000"/>
<circle cx="146.84" cy="522.25" r="3.80" fill="#000"/>
<circle cx="173.36" cy="528.21" r="3.80" fill="#000"/>
<circle cx="213.12" cy="536.56" r="3.80" fill="#000"/>
<circle cx="252.89" cy="541.92" r="3.80" fill="#000"/>
<circle cx="279.40" cy="541.92" r="3.80" fill="#000"/>
<polygon points="47.43,478.10 51.63,485.87 43.23,485.87" fill="#000"/>
<polygon points="54.06,481.08 58.26,488.85 49.86,488.85" fill="#000"/>
<polygon points="60.68,488.04 64.88,495.81 56.48,495.81" fill="#000"/>
<polygon points="67.31,494.20 71.51,501.97 63.11,501.97" fill="#000"/>
<polygon points="73.94,502.35 78.14,510.12 69.74,510.12" fill="#000"/>
<polygon points="80.57,514.87 84.77,522.64 76.37,522.64" fill="#000"/>
<polygon points="93.82,524.61 98.02,532.38 89.62,532.38" fill="#000"/>
<polygon points="107.08,537.72 111.28,545.50 102.88,545.50" fill="#000"/>
<polygon points="120.33,554.02 124.53,561.79 116.13,561.79" fill="#000"/>
<polygon points="146.84,563.76 151.04,571.53 142.64,571.53" fill="#000"/>
<polygon points="173.36,569.92 177.56,577.69 169.16,577.69" fill="#000"/>
<polygon points="213.12,578.27 217.32,586.04 208.92,586.04" fill="#000"/>
<polygon points="252.89,581.65 257.09,589.42 248.69,589.42" fill="#000"/>
<polygon points="279.40,583.24 283.60,591.01 275.20,591.01" fill="#000"/>
<rect x="43.83" y="478.70" width="7.20" height="7.20" fill="#000"/>
<rect x="50.46" y="484.66" width="7.20" height="7.20" fill="#000"/>
<rect x="57.08" y="498.18" width="7.20" height="7.20" fill="#000"/>
<rect x="63.71" y="510.70" width="7.20" height="7.20" fill="#000"/>
<rect x="70.34" y="524.21" width="7.20" height="7.20" fill="#000"/>
<rect x="76.97" y="537.93" width="7.20" height="7.20" fill="#000"/>
<rect x="90.22" y="555.81" width="7.20" height="7.20" fill="#000"/>
<rect x="103.48" y="577.88" width="7.20" height="7.20" fill="#000"/>
<rect x="116.73" y="585.63" width="7.20" height="7.20" fill="#000"/>
<rect x="143.24" y="598.15" width="7.20" height="7.20" fill="#000"/>
<rect x="169.76" y="603.71" width="7.20" height="7.20" fill="#000"/>
<rect x="209.52" y="608.28" width="7.20" height="7.20" fill="#000"/>
<rect x="249.29" y="610.27" width="7.20" height="7.20" fill="#000"/>
<rect x="275.80" y="611.86" width="7.20" height="7.20" fill="#000"/>
<line x1="336.4" y1="608.12" x2="576.4" y2="608.12" stroke="#c8c8c8" stroke-width="2.0"/>
<line x1="332.9" y1="608.12" x2="336.4" y2="608.12" stroke="#a5a5a5" stroke-width="1"/>
<line x1="336.4" y1="575.64" x2="576.4" y2="575.64" stroke="#c8c8c8" stroke-width="2.0"/>
<line x1="332.9" y1="575.64" x2="336.4" y2="575.64" stroke="#a5a5a5" stroke-width="1"/>
<line x1="336.4" y1="543.16" x2="576.4" y2="543.16" stroke="#c8c8c8" stroke-width="2.0"/>
<line x1="332.9" y1="543.16" x2="336.4" y2="543.16" stroke="#a5a5a5" stroke-width="1"/>
<line x1="336.4" y1="510.68" x2="576.4" y2="510.68" stroke="#c8c8c8" stroke-width="2.0"/>
<line x1="332.9" y1="510.68" x2="336.4" y2="510.68" stroke="#a5a5a5" stroke-width="1"/>
<line x1="336.4" y1="478.20" x2="576.4" y2="478.20" stroke="#c8c8c8" stroke-width="2.0"/>
<line x1="332.9" y1="478.20" x2="336.4" y2="478.20" stroke="#a5a5a5" stroke-width="1"/>
<line x1="332.9" y1="640.60" x2="576.9" y2="640.60" stroke="#c8c8c8" stroke-width="2.0"/>
<line x1="336.40" y1="640.60" x2="336.40" y2="644.10" stroke="#a5a5a5" stroke-width="1"/>
<line x1="376.40" y1="640.60" x2="376.40" y2="644.10" stroke="#c8c8c8" stroke-width="1"/>
<line x1="416.40" y1="640.60" x2="416.40" y2="644.10" stroke="#c8c8c8" stroke-width="1"/>
<line x1="456.40" y1="640.60" x2="456.40" y2="644.10" stroke="#c8c8c8" stroke-width="1"/>
<line x1="496.40" y1="640.60" x2="496.40" y2="644.10" stroke="#c8c8c8" stroke-width="1"/>
<line x1="536.40" y1="640.60" x2="536.40" y2="644.10" stroke="#c8c8c8" stroke-width="1"/>
<line x1="576.40" y1="640.60" x2="576.40" y2="644.10" stroke="#c8c8c8" stroke-width="1"/>
<line x1="336.40" y1="478.20" x2="336.40" y2="641.10" stroke="#a5a5a5" stroke-width="1.2"/>
<text x="326.2" y="642.0" dy="0.35em" text-anchor="end" font-family="&quot;Liberation Sans&quot;, sans-serif" font-size="10.5" fill="#1a1a1a">0</text>
<text x="326.2" y="609.5" dy="0.35em" text-anchor="end" font-family="&quot;Liberation Sans&quot;, sans-serif" font-size="10.5" fill="#1a1a1a">1</text>
<text x="326.2" y="577.0" dy="0.35em" text-anchor="end" font-family="&quot;Liberation Sans&quot;, sans-serif" font-size="10.5" fill="#1a1a1a">2</text>
<text x="326.2" y="544.6" dy="0.35em" text-anchor="end" font-family="&quot;Liberation Sans&quot;, sans-serif" font-size="10.5" fill="#1a1a1a">3</text>
<text x="326.2" y="512.1" dy="0.35em" text-anchor="end" font-family="&quot;Liberation Sans&quot;, sans-serif" font-size="10.5" fill="#1a1a1a">4</text>
<text x="326.2" y="480.4" dy="0.35em" text-anchor="end" font-family="&quot;Liberation Sans&quot;, sans-serif" font-size="10.5" fill="#1a1a1a">5</text>
<text x="336.4" y="651.5" dy="0.35em" text-anchor="middle" font-family="&quot;Liberation Sans&quot;, sans-serif" font-size="10.5" fill="#1a1a1a">0</text>
<text x="376.4" y="651.5" dy="0.35em" text-anchor="middle" font-family="&quot;Liberation Sans&quot;, sans-serif" font-size="10.5" fill="#1a1a1a">30</text>
<text x="416.4" y="651.5" dy="0.35em" text-anchor="middle" font-family="&quot;Liberation Sans&quot;, sans-serif" font-size="10.5" fill="#1a1a1a">60</text>
<text x="456.4" y="651.5" dy="0.35em" text-anchor="middle" font-family="&quot;Liberation Sans&quot;, sans-serif" font-size="10.5" fill="#1a1a1a">90</text>
<text x="496.4" y="651.5" dy="0.35em" text-anchor="middle" font-family="&quot;Liberation Sans&quot;, sans-serif" font-size="10.5" fill="#1a1a1a">120</text>
<text x="536.4" y="651.5" dy="0.35em" text-anchor="middle" font-family="&quot;Liberation Sans&quot;, sans-serif" font-size="10.5" fill="#1a1a1a">150</text>
<text x="576.4" y="651.5" dy="0.35em" text-anchor="middle" font-family="&quot;Liberation Sans&quot;, sans-serif" font-size="10.5" fill="#1a1a1a">180</text>
<text x="0" y="0" transform="translate(443.20,671.40) scale(1.05,1)" text-anchor="middle" font-family="&quot;Liberation Serif&quot;, serif" font-size="11.4" font-weight="normal" fill="#000">time (days)</text>
<text x="0" y="0" dy="0.35em" transform="translate(309.60,558.00) rotate(-90) scale(1.05,1)" text-anchor="middle" font-family="&quot;Liberation Serif&quot;, serif" font-size="11.4" font-weight="bold" fill="#000">lactic acid (g/L)</text>
<path d="M336.40,639.95 C337.51,639.57 340.84,638.92 343.07,637.68 C345.29,636.43 347.51,635.51 349.73,632.48 C351.96,629.45 354.18,623.71 356.40,619.49 C358.62,615.27 360.84,611.48 363.07,607.15 C365.29,602.81 367.51,598.05 369.73,593.50 C371.96,588.96 373.07,585.01 376.40,579.86 C379.73,574.72 385.29,569.25 389.73,562.65 C394.18,556.04 398.62,545.16 403.07,540.24 C407.51,535.31 409.73,536.39 416.40,533.09 C423.07,529.79 434.18,523.40 443.07,520.42 C451.96,517.45 458.62,516.80 469.73,515.23 C480.84,513.66 496.40,512.03 509.73,511.00 C523.07,509.98 538.62,509.71 549.73,509.06 C560.84,508.41 571.96,507.43 576.40,507.11" fill="none" stroke="#000" stroke-width="1.2" stroke-linejoin="round"/>
<path d="M336.40,640.60 C337.51,640.33 340.84,639.79 343.07,638.98 C345.29,638.16 347.51,637.62 349.73,635.73 C351.96,633.83 354.18,629.77 356.40,627.61 C358.62,625.44 360.84,624.79 363.07,622.74 C365.29,620.68 367.51,618.41 369.73,615.27 C371.96,612.13 373.07,607.63 376.40,603.90 C379.73,600.16 385.29,596.86 389.73,592.85 C394.18,588.85 398.62,584.73 403.07,579.86 C407.51,574.99 409.73,567.90 416.40,563.62 C423.07,559.35 434.18,556.80 443.07,554.20 C451.96,551.60 458.62,550.31 469.73,548.03 C480.84,545.76 496.40,542.40 509.73,540.56 C523.07,538.72 538.62,538.02 549.73,536.99 C560.84,535.96 571.96,534.82 576.40,534.39" fill="none" stroke="#000" stroke-width="1.2" stroke-linejoin="round"/>
<path d="M336.40,640.60 C337.51,640.60 340.84,640.60 343.07,640.60 C345.29,640.60 347.51,640.76 349.73,640.60 C351.96,640.44 354.18,639.95 356.40,639.63 C358.62,639.30 360.84,639.25 363.07,638.65 C365.29,638.06 367.51,636.81 369.73,636.05 C371.96,635.29 373.07,635.08 376.40,634.10 C379.73,633.13 385.29,631.23 389.73,630.21 C394.18,629.18 398.62,627.93 403.07,627.93 C407.51,627.93 409.73,630.21 416.40,630.21 C423.07,630.21 434.18,628.53 443.07,627.93 C451.96,627.34 458.62,627.12 469.73,626.63 C480.84,626.15 496.40,625.66 509.73,625.01 C523.07,624.36 538.62,623.39 549.73,622.74 C560.84,622.09 571.96,621.38 576.40,621.11" fill="none" stroke="#000" stroke-width="1.2" stroke-linejoin="round"/>
<path d="M336.40,640.60 C337.51,640.60 340.84,640.87 343.07,640.60 C345.29,640.33 347.51,639.25 349.73,638.98 C351.96,638.71 354.18,639.63 356.40,638.98 C358.62,638.33 360.84,636.32 363.07,635.08 C365.29,633.83 367.51,632.32 369.73,631.51 C371.96,630.69 373.07,630.96 376.40,630.21 C379.73,629.45 385.29,628.96 389.73,626.96 C394.18,624.96 398.62,620.62 403.07,618.19 C407.51,615.75 409.73,614.72 416.40,612.34 C423.07,609.96 434.18,606.17 443.07,603.90 C451.96,601.62 458.62,600.70 469.73,598.70 C480.84,596.70 496.40,593.94 509.73,591.88 C523.07,589.82 538.62,587.28 549.73,586.36 C560.84,585.44 571.96,586.36 576.40,586.36" fill="none" stroke="#000" stroke-width="1.2" stroke-linejoin="round"/>
<rect x="332.50" y="636.05" width="7.80" height="7.80" fill="#000"/>
<rect x="339.17" y="633.78" width="7.80" height="7.80" fill="#000"/>
<rect x="345.83" y="628.58" width="7.80" height="7.80" fill="#000"/>
<rect x="352.50" y="615.59" width="7.80" height="7.80" fill="#000"/>
<rect x="359.17" y="603.25" width="7.80" height="7.80" fill="#000"/>
<rect x="365.83" y="589.60" width="7.80" height="7.80" fill="#000"/>
<rect x="372.50" y="575.96" width="7.80" height="7.80" fill="#000"/>
<rect x="385.83" y="558.75" width="7.80" height="7.80" fill="#000"/>
<rect x="399.17" y="536.34" width="7.80" height="7.80" fill="#000"/>
<rect x="412.50" y="529.19" width="7.80" height="7.80" fill="#000"/>
<rect x="439.17" y="516.52" width="7.80" height="7.80" fill="#000"/>
<rect x="465.83" y="511.33" width="7.80" height="7.80" fill="#000"/>
<rect x="505.83" y="507.10" width="7.80" height="7.80" fill="#000"/>
<rect x="545.83" y="505.16" width="7.80" height="7.80" fill="#000"/>
<rect x="572.50" y="503.21" width="7.80" height="7.80" fill="#000"/>
<polygon points="336.40,636.20 340.80,644.34 332.00,644.34" fill="#000"/>
<polygon points="343.07,634.58 347.47,642.72 338.67,642.72" fill="#000"/>
<polygon points="349.73,631.33 354.13,639.47 345.33,639.47" fill="#000"/>
<polygon points="356.40,623.21 360.80,631.35 352.00,631.35" fill="#000"/>
<polygon points="363.07,618.34 367.47,626.48 358.67,626.48" fill="#000"/>
<polygon points="369.73,610.87 374.13,619.01 365.33,619.01" fill="#000"/>
<polygon points="376.40,599.50 380.80,607.64 372.00,607.64" fill="#000"/>
<polygon points="389.73,588.45 394.13,596.59 385.33,596.59" fill="#000"/>
<polygon points="403.07,575.46 407.47,583.60 398.67,583.60" fill="#000"/>
<polygon points="416.40,559.22 420.80,567.36 412.00,567.36" fill="#000"/>
<polygon points="443.07,549.80 447.47,557.94 438.67,557.94" fill="#000"/>
<polygon points="469.73,543.63 474.13,551.77 465.33,551.77" fill="#000"/>
<polygon points="509.73,536.16 514.13,544.30 505.33,544.30" fill="#000"/>
<polygon points="549.73,532.59 554.13,540.73 545.33,540.73" fill="#000"/>
<polygon points="576.40,529.99 580.80,538.13 572.00,538.13" fill="#000"/>
<polygon points="336.40,636.40 340.60,640.60 336.40,644.80 332.20,640.60" fill="#000"/>
<polygon points="343.07,636.40 347.27,640.60 343.07,644.80 338.87,640.60" fill="#000"/>
<polygon points="349.73,636.40 353.93,640.60 349.73,644.80 345.53,640.60" fill="#000"/>
<polygon points="356.40,635.43 360.60,639.63 356.40,643.83 352.20,639.63" fill="#000"/>
<polygon points="363.07,634.45 367.27,638.65 363.07,642.85 358.87,638.65" fill="#000"/>
<polygon points="369.73,631.85 373.93,636.05 369.73,640.25 365.53,636.05" fill="#000"/>
<polygon points="376.40,629.90 380.60,634.10 376.40,638.30 372.20,634.10" fill="#000"/>
<polygon points="389.73,626.01 393.93,630.21 389.73,634.41 385.53,630.21" fill="#000"/>
<polygon points="403.07,623.73 407.27,627.93 403.07,632.13 398.87,627.93" fill="#000"/>
<polygon points="416.40,626.01 420.60,630.21 416.40,634.41 412.20,630.21" fill="#000"/>
<polygon points="443.07,623.73 447.27,627.93 443.07,632.13 438.87,627.93" fill="#000"/>
<polygon points="469.73,622.43 473.93,626.63 469.73,630.83 465.53,626.63" fill="#000"/>
<polygon points="509.73,620.81 513.93,625.01 509.73,629.21 505.53,625.01" fill="#000"/>
<polygon points="549.73,618.54 553.93,622.74 549.73,626.94 545.53,622.74" fill="#000"/>
<polygon points="576.40,616.91 580.60,621.11 576.40,625.31 572.20,621.11" fill="#000"/>
<circle cx="336.40" cy="640.60" r="3.40" fill="#000" stroke="#777" stroke-width="1.2"/>
<circle cx="343.07" cy="640.60" r="3.40" fill="#000" stroke="#777" stroke-width="1.2"/>
<circle cx="349.73" cy="638.98" r="3.40" fill="#000" stroke="#777" stroke-width="1.2"/>
<circle cx="356.40" cy="638.98" r="3.40" fill="#000" stroke="#777" stroke-width="1.2"/>
<circle cx="363.07" cy="635.08" r="3.40" fill="#000" stroke="#777" stroke-width="1.2"/>
<circle cx="369.73" cy="631.51" r="3.40" fill="#000" stroke="#777" stroke-width="1.2"/>
<circle cx="376.40" cy="630.21" r="3.40" fill="#000" stroke="#777" stroke-width="1.2"/>
<circle cx="389.73" cy="626.96" r="3.40" fill="#000" stroke="#777" stroke-width="1.2"/>
<circle cx="403.07" cy="618.19" r="3.40" fill="#000" stroke="#777" stroke-width="1.2"/>
<circle cx="416.40" cy="612.34" r="3.40" fill="#000" stroke="#777" stroke-width="1.2"/>
<circle cx="443.07" cy="603.90" r="3.40" fill="#000" stroke="#777" stroke-width="1.2"/>
<circle cx="469.73" cy="598.70" r="3.40" fill="#000" stroke="#777" stroke-width="1.2"/>
<circle cx="509.73" cy="591.88" r="3.40" fill="#000" stroke="#777" stroke-width="1.2"/>
<circle cx="549.73" cy="586.36" r="3.40" fill="#000" stroke="#777" stroke-width="1.2"/>
<circle cx="576.40" cy="586.36" r="3.40" fill="#000" stroke="#777" stroke-width="1.2"/>
</svg>
</body></html>
